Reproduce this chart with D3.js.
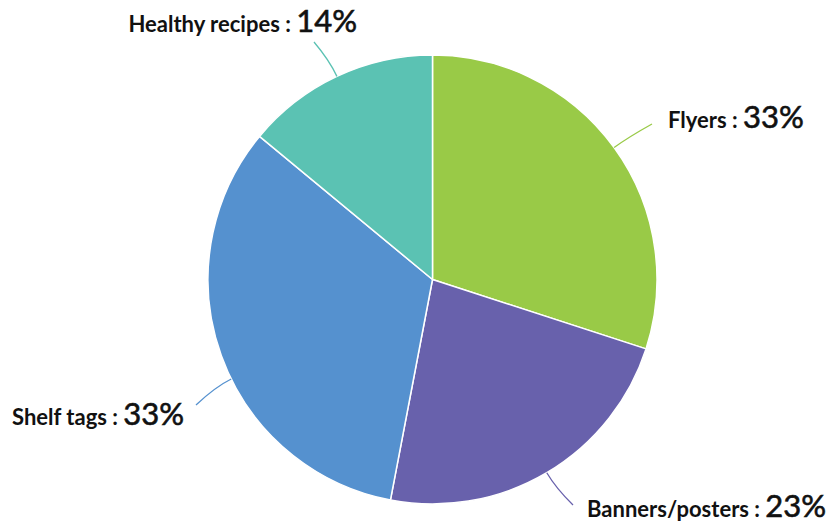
<!DOCTYPE html>
<html>
<head>
<meta charset="utf-8">
<script src="https://cdn.jsdelivr.net/npm/d3@7"></script>
<style>
  body { margin: 0; background: #fff; }
  text { font-family: Lato, "Open Sans", sans-serif; font-weight: 700; fill: #111; }
</style>
</head>
<body>
<div id="chart"></div>
<script>
// data
var categories = ["Flyers", "Banners/posters", "Shelf tags", "Healthy recipes"];
var values = [30, 23, 33, 14];              // slice sizes
var valueLabels = ["33%", "23%", "33%", "14%"]; // as printed on the chart
var colors = ["#99ca47", "#6861ac", "#5591cf", "#5bc2b3"];

var width = 834, height = 523;
var cx = 432.5, cy = 279.5, radius = 224.5;

// label layout: x, baseline y, anchor, leader end point
var labelLayout = [
  { x: 668, y: 128, anchor: "start", ex: 652, ey: 124, shift: 0 },
  { x: 587, y: 517, anchor: "start", ex: 573, ey: 505, shift: 0 },
  { x: 12,  y: 425, anchor: "start", ex: 196, ey: 405, shift: -6.5 },
  { x: 357, y: 32,  anchor: "end",   ex: 314, ey: 42,  shift: 0 }
];

var svg = d3.select("#chart")
    .append("svg")
    .attr("width", width)
    .attr("height", height);

var g = svg.append("g")
    .attr("transform", "translate(" + cx + "," + cy + ")");

var pie = d3.pie().sort(null).value(function(d) { return d; });
var arc = d3.arc().innerRadius(0).outerRadius(radius);
var arcs = pie(values);

g.selectAll(".slice")
    .data(arcs)
    .enter().append("path")
    .attr("class", "slice")
    .attr("d", arc)
    .attr("fill", function(d, i) { return colors[i]; })
    .attr("stroke", "#fff")
    .attr("stroke-width", 1.5);

// leader lines
svg.selectAll(".tick")
    .data(arcs)
    .enter().append("path")
    .attr("class", "tick")
    .attr("fill", "none")
    .attr("stroke", function(d, i) { return colors[i]; })
    .attr("stroke-width", 1.3)
    .attr("d", function(d, i) {
      var L = labelLayout[i];
      var a = (d.startAngle + d.endAngle) / 2 + L.shift * Math.PI / 180;
      var sx = cx + Math.sin(a) * radius, sy = cy - Math.cos(a) * radius;
      var qx = sx + Math.sin(a) * 18, qy = sy - Math.cos(a) * 18;
      return "M" + sx + "," + sy + "Q" + qx + "," + qy + " " + L.ex + "," + L.ey;
    });

// labels
var labels = svg.selectAll(".label")
    .data(categories)
    .enter().append("text")
    .attr("class", "label")
    .attr("x", function(d, i) { return labelLayout[i].x; })
    .attr("y", function(d, i) { return labelLayout[i].y; })
    .attr("text-anchor", function(d, i) { return labelLayout[i].anchor; });

labels.append("tspan")
    .style("font-size", "22px")
    .text(function(d) { return d + " : "; });

// value part is a medium weight; thicken the regular face a little
labels.append("tspan")
    .style("font-size", "31px")
    .style("font-weight", 400)
    .style("stroke", "#111")
    .style("stroke-width", 0.6)
    .text(function(d, i) { return valueLabels[i]; });
</script>
</body>
</html>
